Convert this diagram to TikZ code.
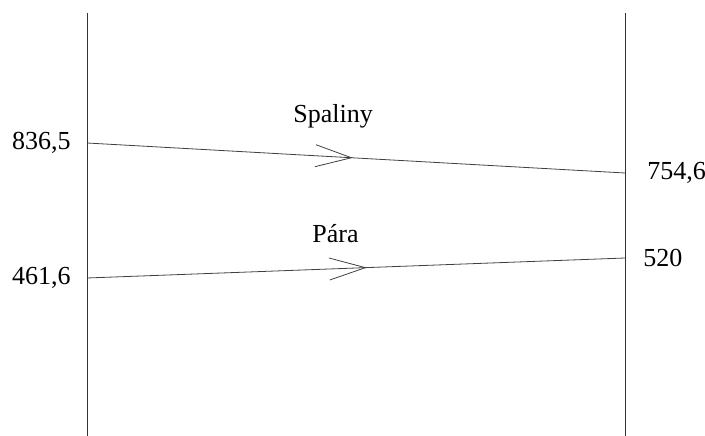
\documentclass[tikz,border=0pt]{standalone}
\usepackage{fontspec}
\setmainfont{Liberation Serif}
\usetikzlibrary{arrows.meta,decorations.markings,positioning}

\begin{document}
\begin{tikzpicture}[x=1pt,y=-1pt,line width=0.8pt,
    font=\fontsize{26}{30}\selectfont,
    every node/.style={inner sep=0pt},
    wall/.style={draw=black!80},
    flow/.style={draw=black!75,
      decoration={markings,mark=at position #1 with {\arrow{Straight Barb[length=36pt,width=22pt]}}},
      postaction={decorate}}]

    \useasboundingbox (0,0) rectangle (705,436);

    % walls of the exchanger
    \coordinate (lTop) at (87,13);
    \coordinate (lBot) at (87,436);
    \coordinate (rTop) at (625,13);
    \coordinate (rBot) at (625,436);

    \coordinate (gasIn) at (87,143);
    \coordinate (gasOut) at (625,173);
    \coordinate (steamIn) at (87,278);
    \coordinate (steamOut) at (625,258);

    \node[anchor=east] (tGasIn) [left=16pt of gasIn] {836,5};
    \node[anchor=west] (tGasOut) [right=22pt of gasOut] {754,6};
    \node[anchor=east] (tSteamIn) [left=16pt of steamIn] {461,6};
    \node[anchor=west] (tSteamOut) [right=18pt of steamOut] {520};

    \node[anchor=base west] (gas) at (293,122) {Spaliny};
    \node[anchor=base west] (steam) at (312,242) {Pára};

    \path[wall] (lTop) edge (lBot)
                (rTop) edge (rBot);

    \path[flow=0.494] (gasIn) -- (gasOut);
    \path[flow=0.52] (steamIn) -- (steamOut);

\end{tikzpicture}
\end{document}
